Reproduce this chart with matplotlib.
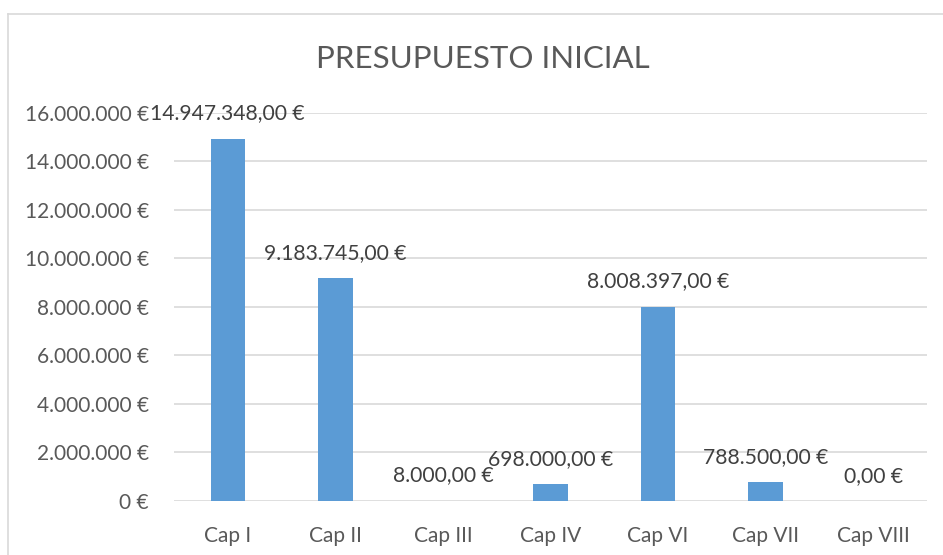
import numpy as np
import matplotlib.pyplot as plt
from matplotlib.lines import Line2D

categories = ["Cap I", "Cap II", "Cap III", "Cap IV", "Cap VI", "Cap VII", "Cap VIII"]
values = [14947348.00, 9183745.00, 8000.00, 698000.00, 8008397.00, 788500.00, 0.00]
yticks = [0, 2000000, 4000000, 6000000, 8000000, 10000000, 12000000, 14000000, 16000000]


def euro_int(v):
    return f"{int(v):,}".replace(",", ".") + " €"


def euro_dec(v):
    s = f"{v:,.2f}"
    s = s.replace(",", "X").replace(".", ",").replace("X", ".")
    return s + " €"


plt.rcParams["font.family"] = ["Lato", "DejaVu Sans"]
txt = "#595959"

fig = plt.figure(figsize=(9.43, 5.55), dpi=100)
ax = fig.add_axes([0.1845, 0.0973, 0.7985, 0.6991])

x = np.arange(len(categories))
ax.bar(x, values, width=0.32, color="#5B9BD5", zorder=3)

for xi, v in zip(x, values):
    ax.annotate(euro_dec(v), (xi, v), xytext=(0, 11), textcoords="offset points",
                ha="center", va="bottom", fontsize=15.2, color="#404040", zorder=4)

ax.set_xlim(-0.5, len(categories) - 0.5)
ax.set_ylim(0, 16000000)
ax.set_yticks(yticks)
ax.set_yticklabels([euro_int(t) for t in yticks])
ax.set_xticks(x)
ax.set_xticklabels(categories)
ax.tick_params(axis="both", length=0, labelsize=15, colors=txt)
ax.tick_params(axis="y", pad=18)
ax.tick_params(axis="x", pad=18)
ax.grid(axis="y", color="#D9D9D9", linewidth=1.2, zorder=0)
for s in ax.spines.values():
    s.set_visible(False)

fig.text(0.512, 0.893, "PRESUPUESTO INICIAL", ha="center", va="center",
         fontsize=22.5, color=txt)

# chart frame (partly cropped in the reference)
fig.add_artist(Line2D([8 / 943, 1], [1 - 14 / 555, 1 - 14 / 555], color="#D9D9D9", lw=1.2))
fig.add_artist(Line2D([8 / 943, 8 / 943], [0, 1 - 14 / 555], color="#D9D9D9", lw=1.2))

fig.savefig("out.png", dpi=100)
